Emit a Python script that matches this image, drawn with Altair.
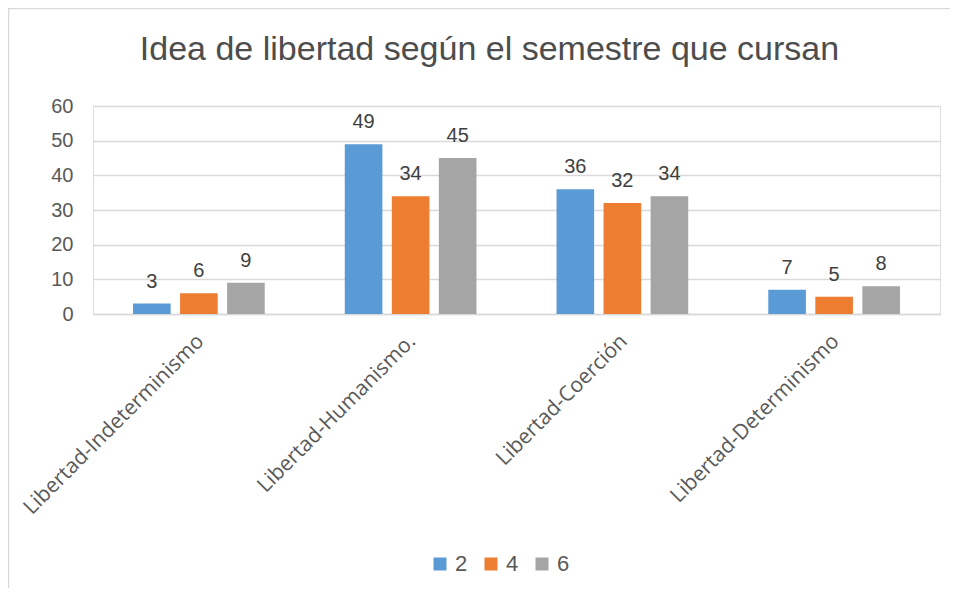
import altair as alt
import pandas as pd

categories = ["Libertad-Indeterminismo", "Libertad-Humanismo.", "Libertad-Coerción", "Libertad-Determinismo"]
series = ["2", "4", "6"]
values_2 = [3, 49, 36, 7]
values_4 = [6, 34, 32, 5]
values_6 = [9, 45, 34, 8]
colors = ["#5B9BD5", "#ED7D31", "#A5A5A5"]
y_ticks = [0, 10, 20, 30, 40, 50, 60]
title_text = "Idea de libertad según el semestre que cursan"

rows = []
for s, vals in zip(series, [values_2, values_4, values_6]):
    for c, v in zip(categories, vals):
        rows.append({"categoria": c, "semestre": s, "valor": v})
df = pd.DataFrame(rows)

W, H = 847, 208
PL, PT = 85, 98

x_enc = alt.X("categoria:N", sort=categories,
              scale=alt.Scale(paddingInner=0.378, paddingOuter=0.189),
              axis=alt.Axis(title=None, labelAngle=-45, labelFont="Open Sans",
                            labelFontSize=21, labelColor="#595959", ticks=False,
                            domain=True, domainColor="#d9d9d9", domainWidth=1.5,
                            labelPadding=16, labelOffset=-6, labelLimit=400))
xo_enc = alt.XOffset("semestre:N", sort=series,
                     scale=alt.Scale(paddingInner=0.2, paddingOuter=0))
y_enc = alt.Y("valor:Q", scale=alt.Scale(domain=[0, 60], nice=False),
              axis=alt.Axis(title=None, values=y_ticks, labelOverlap=False,
                            labelFont="Liberation Sans", labelFontSize=20,
                            labelColor="#595959", ticks=False, domain=False,
                            gridColor="#d9d9d9", gridWidth=1.5, labelPadding=20))
color_enc = alt.Color("semestre:N", sort=series,
                      scale=alt.Scale(domain=series, range=colors),
                      legend=alt.Legend(title=None, orient="none", direction="horizontal",
                                        legendX=336, legendY=447,
                                        symbolType="square", symbolSize=169,
                                        symbolStrokeWidth=0, symbolOpacity=1,
                                        labelFont="Liberation Sans", labelFontSize=22,
                                        labelColor="#595959", labelOffset=4,
                                        columnPadding=12))

base = alt.Chart(df)
bars = base.mark_bar(opacity=1).encode(x=x_enc, xOffset=xo_enc, y=y_enc, color=color_enc)
labels = base.mark_text(baseline="bottom", dy=-12, font="Liberation Sans",
                        fontSize=20, color="#404040").encode(
    x=x_enc, xOffset=xo_enc, y=y_enc, text="valor:Q")

frame = alt.Chart(pd.DataFrame({"f": [0]})).mark_rect(
    fill=None, stroke="#d9d9d9", strokeWidth=1.5).encode(
    x=alt.value(-PL + 0.5), x2=alt.value(W + 200),
    y=alt.value(-PT + 0.5), y2=alt.value(H + 400))

chart = alt.layer(frame, bars, labels).properties(
    width=W, height=H,
    title=alt.TitleParams(title_text, font="Liberation Sans", fontSize=34,
                          fontWeight="normal", color="#4d4d4d", anchor="middle",
                          frame="group", dx=-27, dy=59, offset=0),
    autosize=alt.AutoSizeParams(type="none"),
    padding={"left": PL, "top": PT, "right": 10, "bottom": 274},
).configure_view(stroke=None).configure(background="white")

chart.save("out.html", embed_options={"renderer": "svg", "actions": False})
